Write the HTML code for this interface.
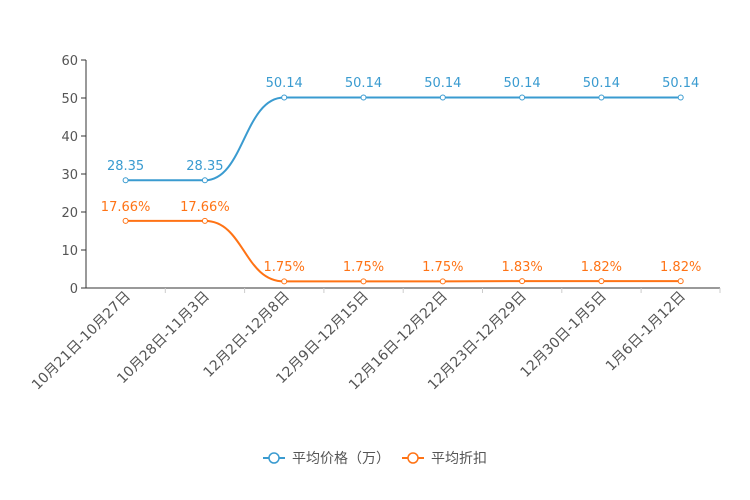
<!DOCTYPE html>
<html><head><meta charset="utf-8"><style>body{margin:0;background:#fff}svg{display:block}</style></head><body>
<svg width="750" height="500" xmlns="http://www.w3.org/2000/svg" font-family="DejaVu Sans, Noto Sans CJK SC, sans-serif">
<g font-size="13" fill="#555" text-anchor="end">
<text x="78" y="65">60</text><text x="78" y="103">50</text><text x="78" y="141">40</text><text x="78" y="179">30</text><text x="78" y="217">20</text><text x="78" y="255">10</text><text x="78" y="293">0</text>
</g>
<g stroke="#333" stroke-width="1">
<line x1="86" y1="60" x2="86" y2="288"/><line x1="81" y1="60" x2="86" y2="60"/><line x1="81" y1="98" x2="86" y2="98"/><line x1="81" y1="136" x2="86" y2="136"/><line x1="81" y1="174" x2="86" y2="174"/><line x1="81" y1="212" x2="86" y2="212"/><line x1="81" y1="250" x2="86" y2="250"/><line x1="81" y1="288" x2="86" y2="288"/>
<line x1="86" y1="288" x2="720" y2="288"/>
</g>
<g stroke="#ccc"><line x1="165.3" y1="288" x2="165.3" y2="293"/><line x1="244.6" y1="288" x2="244.6" y2="293"/><line x1="323.9" y1="288" x2="323.9" y2="293"/><line x1="403.2" y1="288" x2="403.2" y2="293"/><line x1="482.5" y1="288" x2="482.5" y2="293"/><line x1="561.8" y1="288" x2="561.8" y2="293"/><line x1="641.1" y1="288" x2="641.1" y2="293"/><line x1="720" y1="288" x2="720" y2="293"/></g>
<g font-size="14" fill="#555" text-anchor="end">
<text transform="translate(131,297) rotate(-45)">10月21日-10月27日</text>
<text transform="translate(210,297) rotate(-45)">10月28日-11月3日</text>
<text transform="translate(290,297) rotate(-45)">12月2日-12月8日</text>
<text transform="translate(369,297) rotate(-45)">12月9日-12月15日</text>
<text transform="translate(448,297) rotate(-45)">12月16日-12月22日</text>
<text transform="translate(527,297) rotate(-45)">12月23日-12月29日</text>
<text transform="translate(607,297) rotate(-45)">12月30日-1月5日</text>
<text transform="translate(686,297) rotate(-45)">1月6日-1月12日</text>
</g>
<path d="M125.6 180.3 L204.9 180.3 C244 180.3 244 97.5 284.2 97.5 L680.7 97.5" fill="none" stroke="#3a9bd0" stroke-width="2"/>
<path d="M125.6 220.9 L204.9 220.9 C244 220.9 244 281.4 284.2 281.4 L442.8 281.4 L522.1 281.1 L680.7 281.1" fill="none" stroke="#ff7315" stroke-width="2"/>
<g fill="#fff" stroke="#3a9bd0" stroke-width="1">
<circle cx="125.6" cy="180.3" r="2.5"/><circle cx="204.9" cy="180.3" r="2.5"/><circle cx="284.2" cy="97.5" r="2.5"/><circle cx="363.5" cy="97.5" r="2.5"/><circle cx="442.8" cy="97.5" r="2.5"/><circle cx="522.1" cy="97.5" r="2.5"/><circle cx="601.4" cy="97.5" r="2.5"/><circle cx="680.7" cy="97.5" r="2.5"/>
</g>
<g fill="#fff" stroke="#ff7315" stroke-width="1">
<circle cx="125.6" cy="220.9" r="2.5"/><circle cx="204.9" cy="220.9" r="2.5"/><circle cx="284.2" cy="281.4" r="2.5"/><circle cx="363.5" cy="281.4" r="2.5"/><circle cx="442.8" cy="281.4" r="2.5"/><circle cx="522.1" cy="281.1" r="2.5"/><circle cx="601.4" cy="281.1" r="2.5"/><circle cx="680.7" cy="281.1" r="2.5"/>
</g>
<g font-size="13" fill="#3a9bd0" text-anchor="middle">
<text x="125.6" y="170">28.35</text><text x="204.9" y="170">28.35</text><text x="284.2" y="87">50.14</text><text x="363.5" y="87">50.14</text><text x="442.8" y="87">50.14</text><text x="522.1" y="87">50.14</text><text x="601.4" y="87">50.14</text><text x="680.7" y="87">50.14</text>
</g>
<g font-size="13" fill="#ff7315" text-anchor="middle">
<text x="125.6" y="211">17.66%</text><text x="204.9" y="211">17.66%</text><text x="284.2" y="271">1.75%</text><text x="363.5" y="271">1.75%</text><text x="442.8" y="271">1.75%</text><text x="522.1" y="271">1.83%</text><text x="601.4" y="271">1.82%</text><text x="680.7" y="271">1.82%</text>
</g>
<line x1="263" y1="458" x2="285" y2="458" stroke="#3a9bd0" stroke-width="2"/><circle cx="274" cy="458" r="5" fill="#fff" stroke="#3a9bd0" stroke-width="1.5"/>
<text x="292" y="463" font-size="14" fill="#555">平均价格（万）</text>
<line x1="402" y1="458" x2="424" y2="458" stroke="#ff7315" stroke-width="2"/><circle cx="413" cy="458" r="5" fill="#fff" stroke="#ff7315" stroke-width="1.5"/>
<text x="431" y="463" font-size="14" fill="#555">平均折扣</text>
</svg>
</body></html>
